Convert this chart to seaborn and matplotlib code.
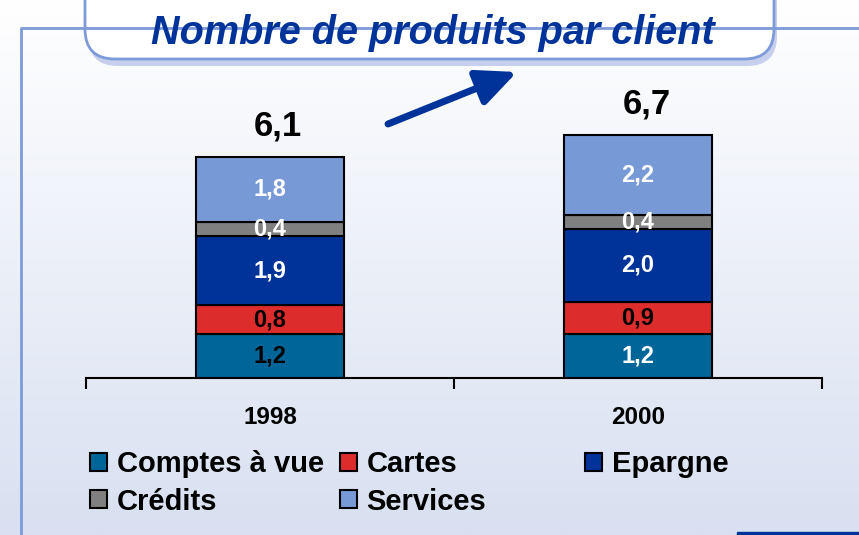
import numpy as np
import pandas as pd
import matplotlib.pyplot as plt
import matplotlib.colors as mcolors
from matplotlib.patches import FancyBboxPatch, Rectangle
import seaborn as sns

# Données
annees = ['1998', '2000']
produits = ['Comptes à vue', 'Cartes', 'Epargne', 'Crédits', 'Services']
comptes = [1.2, 1.2]
cartes = [0.8, 0.9]
epargne = [1.9, 2.0]
credits = [0.4, 0.4]
services = [1.8, 2.2]
totaux = [6.1, 6.7]

couleurs = {'Comptes à vue': '#006699', 'Cartes': '#dd2c2c', 'Epargne': '#003399',
            'Crédits': '#808080', 'Services': '#7799d6'}
# couleur des étiquettes dans chaque segment (1998, 2000)
couleurs_texte = {'Comptes à vue': ['black', 'white'], 'Cartes': ['black', 'black'],
                  'Epargne': ['white', 'white'], 'Crédits': ['white', 'white'],
                  'Services': ['white', 'white']}

df = pd.DataFrame({'Année': annees, 'Comptes à vue': comptes, 'Cartes': cartes,
                   'Epargne': epargne, 'Crédits': credits, 'Services': services})

sns.set_style('white')
plt.rcParams['font.family'] = ['Liberation Sans', 'DejaVu Sans']
plt.rcParams['text.color'] = 'black'
plt.rcParams['xtick.color'] = 'black'

W, H = 859, 535
fig = plt.figure(figsize=(W / 100, H / 100), dpi=100)

# Fond dégradé + décor (coordonnées en pixels)
bg = fig.add_axes([0, 0, 1, 1], zorder=-10)
t = np.linspace(0, 1, 256).reshape(-1, 1, 1)
c_haut = np.array(mcolors.to_rgb('#ffffff'))
c_bas = np.array(mcolors.to_rgb('#d8e0f1'))
bg.imshow(c_haut + t * (c_bas - c_haut), aspect='auto', extent=[0, W, 0, H])
bg.set_xlim(0, W)
bg.set_ylim(0, H)
bg.axis('off')

bleu_cadre = '#7c9bd8'
bg.plot([21, 21, W], [0, H - 28, H - 28], color=bleu_cadre, lw=2)

# Cartouche du titre
bg.add_patch(FancyBboxPatch((88, H - 66), 689, 130, boxstyle='round,pad=0,rounding_size=30',
                            facecolor='#c6cfec', edgecolor='none'))
bg.add_patch(FancyBboxPatch((85, H - 59), 689, 130, boxstyle='round,pad=0,rounding_size=30',
                            facecolor='white', edgecolor=bleu_cadre, lw=2))
bg.text(433, H - 33, 'Nombre de produits par client', ha='center', va='center',
        fontsize=28.5, fontweight='bold', fontstyle='italic', color='#003399')

# Flèche de progression
bg.annotate('', xy=(517, H - 72), xytext=(388, H - 124),
            arrowprops=dict(arrowstyle='-|>,head_length=2.4,head_width=1.1', color='#003399',
                            lw=5, capstyle='round', shrinkA=0, shrinkB=0))
bg.add_patch(Rectangle((737, 0), W - 737, 3, color='#003399'))

# Graphique principal
ax = fig.add_axes([86 / W, (H - 378) / H, (822 - 86) / W, (378 - 60) / H])
ax.patch.set_visible(False)

bas = np.zeros(len(annees))
for produit in produits:
    sns.barplot(data=df, x='Année', y=produit, bottom=bas, color=couleurs[produit],
                saturation=1, width=0.4, edgecolor='black', linewidth=1.5,
                errorbar=None, label=produit, ax=ax)
    for i, (v, b) in enumerate(zip(df[produit], bas)):
        ax.text(i, b + v / 2, f'{v:.1f}'.replace('.', ','), ha='center', va='center',
                fontsize=17, fontweight='bold', color=couleurs_texte[produit][i])
    bas = bas + df[produit].to_numpy()

for i, tot in enumerate(totaux):
    ax.annotate(f'{tot:.1f}'.replace('.', ','), xy=(i, tot), xytext=(6, 10),
                textcoords='offset points', ha='center', va='bottom',
                fontsize=25, fontweight='bold')

poignees, noms = ax.get_legend_handles_labels()
if ax.get_legend() is not None:
    ax.get_legend().remove()

ax.set_xlim(-0.5, 1.5)
ax.set_ylim(0, 318 / 36.3)
ax.set_yticks([])
ax.set_xlabel('')
ax.set_ylabel('')
for s in ['left', 'top', 'right']:
    ax.spines[s].set_visible(False)
ax.spines['bottom'].set_color('black')
ax.spines['bottom'].set_linewidth(1.5)
ax.set_xticks([-0.5, 0.5, 1.5], minor=True)
ax.tick_params(axis='x', which='minor', bottom=True, length=8, width=1.5, color='black')
ax.tick_params(axis='x', which='major', bottom=False, length=0, pad=20.5, labelsize=17.5)
for lbl in ax.get_xticklabels():
    lbl.set_fontweight('bold')

# Légende en trois colonnes
par_nom = dict(zip(noms, poignees))
colonnes = [(['Comptes à vue', 'Crédits'], 90), (['Cartes', 'Services'], 340), (['Epargne'], 585)]
for noms_col, x in colonnes:
    fig.legend([par_nom[n] for n in noms_col], noms_col, loc='upper left',
               bbox_to_anchor=(x / W, 1 - 450 / H), frameon=False, borderpad=0,
               borderaxespad=0, handlelength=0.58, handleheight=0.58, handletextpad=0.33,
               labelspacing=0.33, prop={'weight': 'bold', 'size': 21})

fig.savefig('out.png', dpi=100)
